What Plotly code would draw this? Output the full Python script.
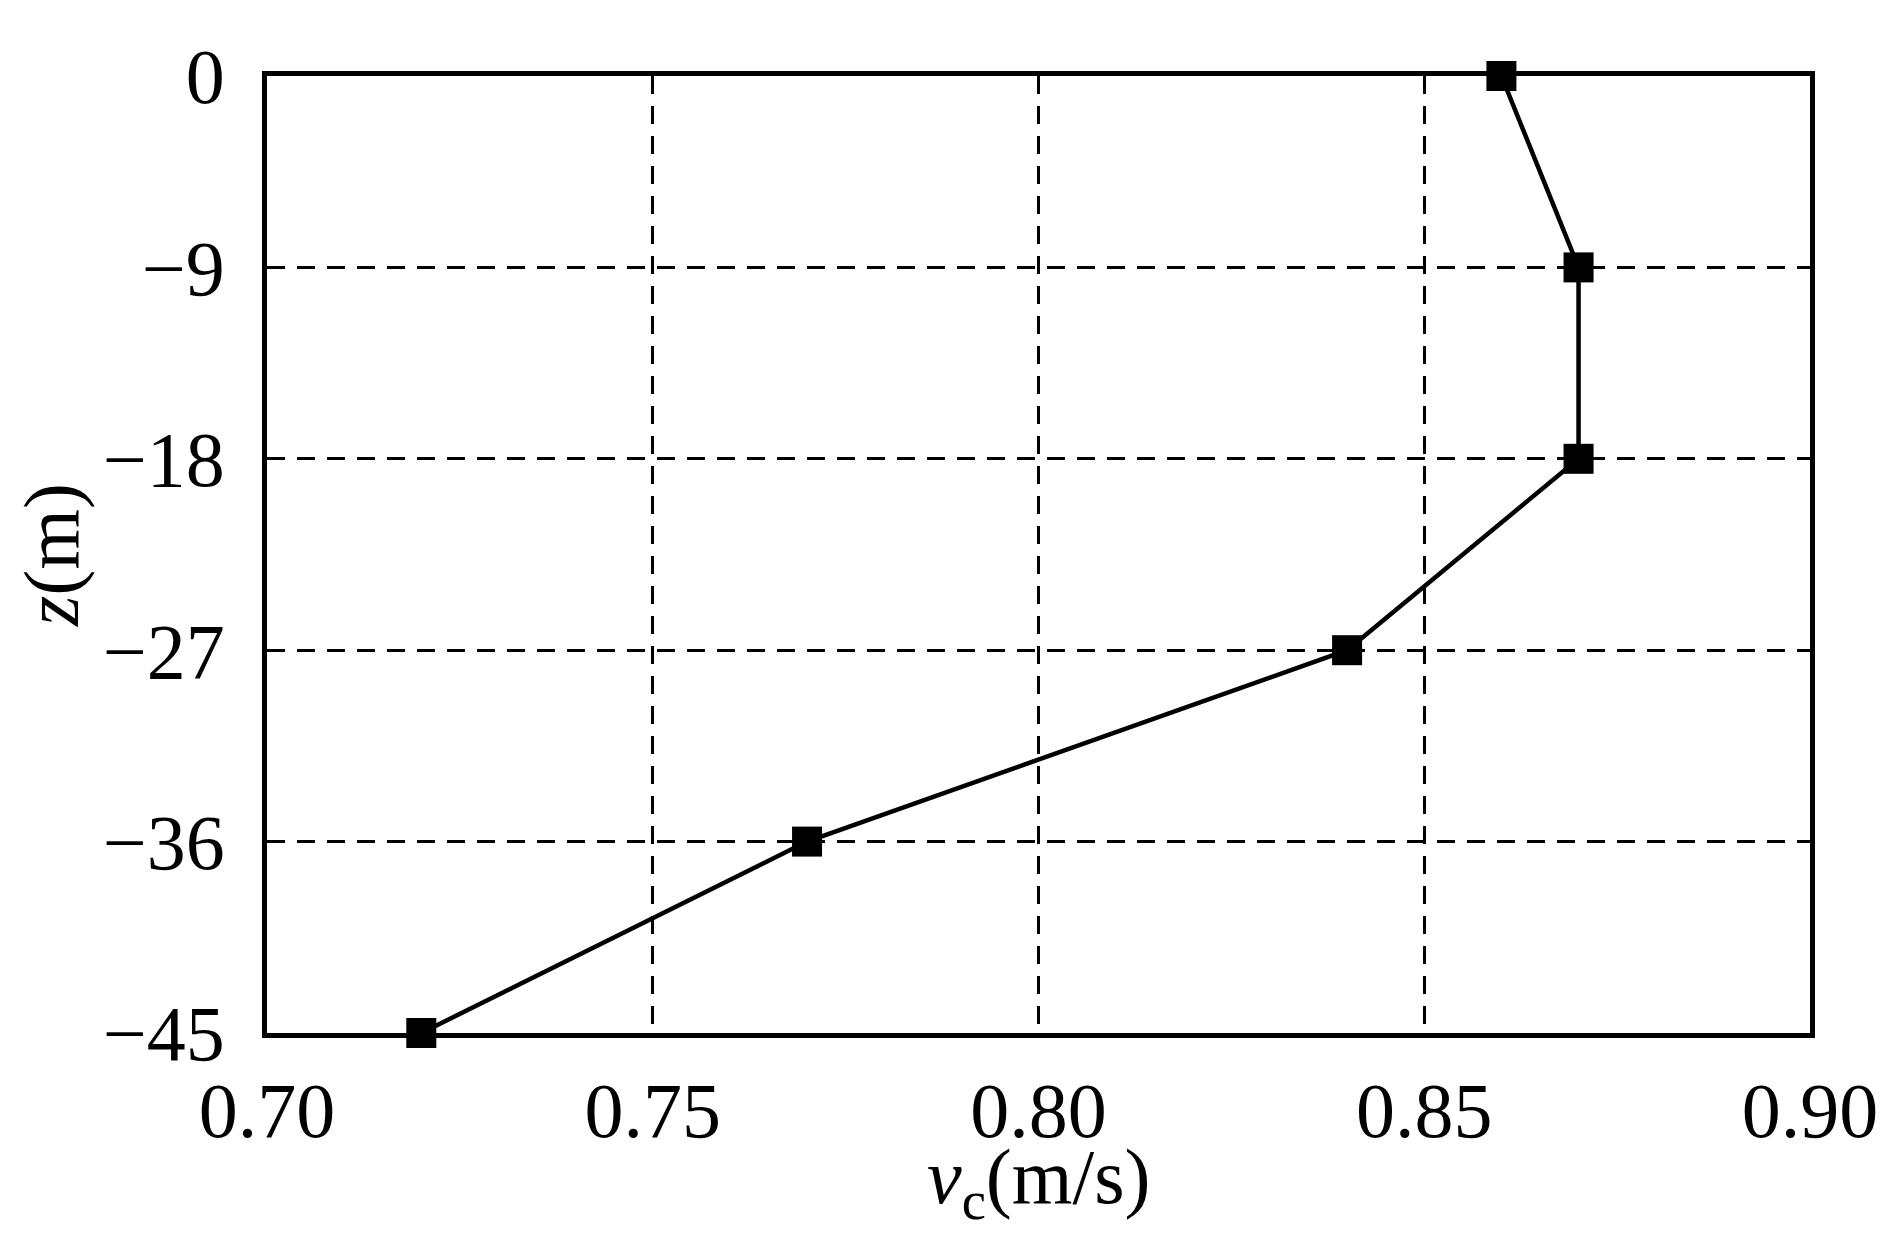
import plotly.graph_objects as go

velocity = [0.86, 0.87, 0.87, 0.84, 0.77, 0.72]
depth = [0, -9, -18, -27, -36, -45]
x_ticks = [0.70, 0.75, 0.80, 0.85, 0.90]
x_labels = ["0.70", "0.75", "0.80", "0.85", "0.90"]
y_ticks = [0, -9, -18, -27, -36, -45]
y_labels = ["0", "\u22129", "\u221218", "\u221227", "\u221236", "\u221245"]

font_family = "Liberation Serif, Times New Roman, serif"
FS = 78

fig = go.Figure()
fig.add_trace(go.Scatter(
    x=velocity, y=depth, mode="lines+markers",
    line=dict(color="black", width=4.5),
    marker=dict(symbol="square", size=30, color="black"),
    cliponaxis=False, showlegend=False,
))

fig.update_layout(
    width=1901, height=1253,
    margin=dict(l=259, r=99, t=68, b=228),
    paper_bgcolor="white", plot_bgcolor="white",
    font=dict(family=font_family, size=FS, color="black"),
    annotations=[dict(
        text="<i>v</i><sub>c</sub>(m/s)", xref="paper", yref="paper",
        x=0.5, y=-0.156, xanchor="center", yanchor="middle",
        showarrow=False, font=dict(size=FS),
    )],
)
fig.update_xaxes(
    range=[0.70, 0.90], tickvals=x_ticks, ticktext=x_labels,
    showgrid=True, gridcolor="black", gridwidth=3, griddash="18px,12px",
    showline=True, linecolor="black", linewidth=4.5, mirror=True,
    ticks="", ticklabelstandoff=6, zeroline=False,
)
fig.update_yaxes(
    range=[-45, 0], tickvals=y_ticks, ticktext=y_labels,
    showgrid=True, gridcolor="black", gridwidth=3, griddash="18px,12px",
    showline=True, linecolor="black", linewidth=4.5, mirror=True,
    ticks="", ticklabelstandoff=22, zeroline=False,
    title=dict(text="<i>z</i>(m)", font=dict(size=FS), standoff=4),
)

fig.write_html("out.html")
